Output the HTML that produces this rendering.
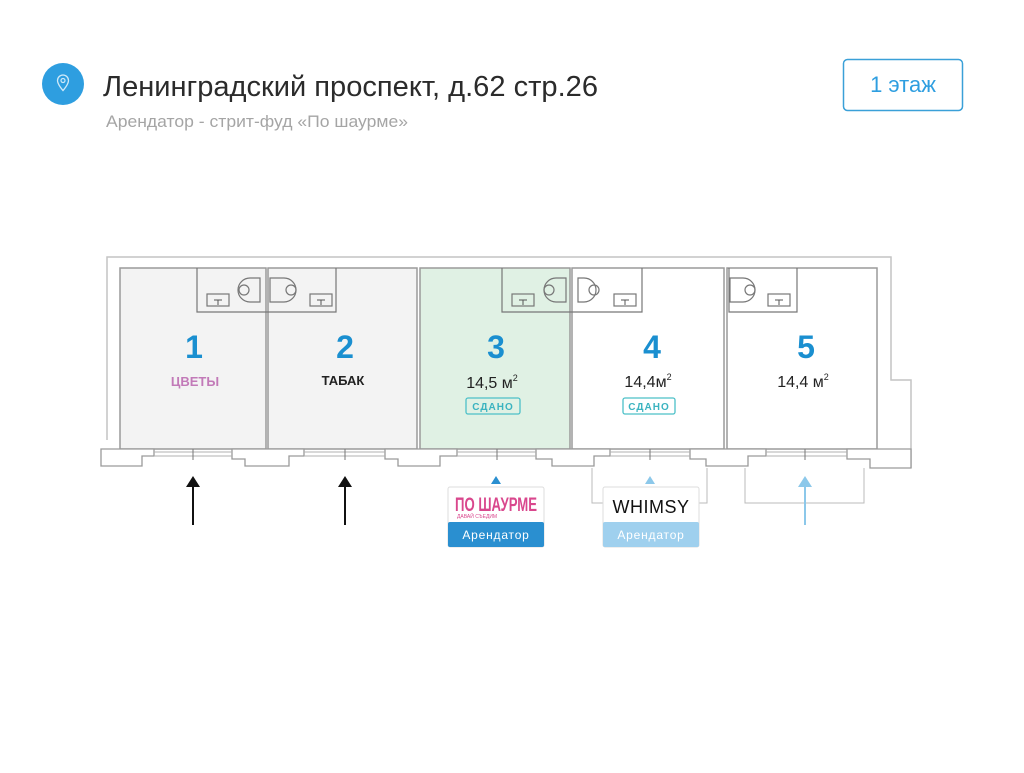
<!DOCTYPE html>
<html><head><meta charset="utf-8"><style>
body{margin:0;width:1024px;height:768px;background:#fff;overflow:hidden;font-family:"Liberation Sans",sans-serif;}
</style></head><body>
<svg width="1024" height="768" xmlns="http://www.w3.org/2000/svg" font-family="Liberation Sans, sans-serif">
<!-- header -->
<circle cx="63" cy="84" r="21" fill="#2e9ee0"/>
<path d="M63 75 a5.5 5.5 0 0 1 5.5 5.5 c0 4 -5.5 10 -5.5 10 c0 0 -5.5 -6 -5.5 -10 a5.5 5.5 0 0 1 5.5 -5.5z" fill="none" stroke="#cfe9f8" stroke-width="1.3"/>
<circle cx="63" cy="80.5" r="2" fill="none" stroke="#cfe9f8" stroke-width="1.2"/>
<text x="103" y="96" font-size="29" fill="#2b2b2b" textLength="495" lengthAdjust="spacingAndGlyphs">Ленинградский проспект, д.62 стр.26</text>
<text x="106" y="127" font-size="17" fill="#a5a5a5" textLength="302" lengthAdjust="spacingAndGlyphs">Арендатор - стрит-фуд «По шаурме»</text>
<rect x="843.5" y="59.5" width="119" height="51" rx="4" fill="#fff" stroke="#3aa0d8" stroke-width="1.5"/>
<text x="903" y="92" font-size="22" fill="#2e9ee0" text-anchor="middle">1 этаж</text>

<!-- outer wall -->
<path d="M107 440 V257 H891 V380 H911 V468" fill="none" stroke="#c4c4c4" stroke-width="1.5"/>
<!-- rooms -->
<rect x="120" y="268" width="146" height="181" fill="#f3f3f3" stroke="#9a9a9a" stroke-width="1.5"/>
<rect x="268" y="268" width="149" height="181" fill="#f3f3f3" stroke="#9a9a9a" stroke-width="1.5"/>
<rect x="420" y="268" width="150" height="181" fill="#e0f1e4" stroke="#9a9a9a" stroke-width="1.5"/>
<rect x="572" y="268" width="152" height="181" fill="#fff" stroke="#9a9a9a" stroke-width="1.5"/>
<rect x="727" y="268" width="150" height="181" fill="#fff" stroke="#9a9a9a" stroke-width="1.5"/>

<!-- toilets -->
<g fill="none" stroke="#777" stroke-width="1.2">
<path d="M197 268 V312 H336 V268"/>
<rect x="207" y="294" width="22" height="12"/><rect x="310" y="294" width="22" height="12"/>
<path d="M250 278 H260 V302 H250 a12 12 0 0 1 0 -24z"/><circle cx="244" cy="290" r="5"/>
<path d="M276 278 H270 V302 H276 H284 a12 12 0 0 0 0 -24z"/><circle cx="291" cy="290" r="5"/>
<path d="M502 268 V312 H642 V268"/>
<rect x="512" y="294" width="22" height="12"/><rect x="614" y="294" width="22" height="12"/>
<path d="M556 278 H566 V302 H556 a12 12 0 0 1 0 -24z"/><circle cx="549" cy="290" r="5"/>
<path d="M578 278 H584 a12 12 0 0 1 0 24 H578z"/><circle cx="594" cy="290" r="5"/>
<path d="M729 268 V312 H797 V268"/>
<rect x="768" y="294" width="22" height="12"/>
<path d="M730 278 H743 a12 12 0 0 1 0 24 H730z"/><circle cx="750" cy="290" r="5"/>
</g>
<g stroke="#555" stroke-width="1"><path d="M214 300 H222 M218 300 V305 M317 300 H325 M321 300 V305 M519 300 H527 M523 300 V305 M621 300 H629 M625 300 V305 M775 300 H783 M779 300 V305"/></g>

<!-- bottom walls -->
<g fill="#fff" stroke="#9a9a9a" stroke-width="1.3">
<path d="M101 449 H154 V456 H142 V466 H101z"/>
<path d="M232 449 H304 V456 H289 V466 H245 V459 H232z"/>
<path d="M385 449 H457 V456 H440 V466 H398 V459 H385z"/>
<path d="M536 449 H610 V456 H594 V466 H552 V459 H536z"/>
<path d="M690 449 H766 V456 H748 V466 H706 V459 H690z"/>
<path d="M847 449 H911 V468 H870 V459 H847z"/>
</g>
<g stroke="#b0b0b0" stroke-width="1"><path d="M154 452 H232 M154 456 H232 M304 452 H385 M304 456 H385 M457 452 H536 M457 456 H536 M610 452 H690 M610 456 H690 M766 452 H847 M766 456 H847"/></g>
<g stroke="#777" stroke-width="1"><path d="M193 449 V460 M345 449 V460 M497 449 V460 M650 449 V460 M805 449 V460"/></g>
<!-- numbers -->
<g font-size="32" font-weight="bold" fill="#1a8fd0" text-anchor="middle">
<text x="194" y="358">1</text><text x="345" y="358">2</text><text x="496" y="358">3</text><text x="652" y="358">4</text><text x="806" y="358">5</text>
</g>
<text x="195" y="386" font-size="13" font-weight="bold" fill="#c27ab8" text-anchor="middle">ЦВЕТЫ</text>
<text x="343" y="385" font-size="13" font-weight="bold" fill="#222" text-anchor="middle">ТАБАК</text>
<text x="492" y="388" font-size="16" fill="#222" text-anchor="middle">14,5 м<tspan font-size="9" dy="-7">2</tspan></text>
<text x="648" y="387" font-size="16" fill="#222" text-anchor="middle">14,4м<tspan font-size="9" dy="-7">2</tspan></text>
<text x="803" y="387" font-size="16" fill="#222" text-anchor="middle">14,4 м<tspan font-size="9" dy="-7">2</tspan></text>
<rect x="466" y="398" width="54" height="16" rx="2" fill="none" stroke="#4cc0c8" stroke-width="1.3"/>
<text x="493" y="410" font-size="10" font-weight="bold" fill="#3bb3c0" text-anchor="middle" letter-spacing="1">СДАНО</text>
<rect x="623" y="398" width="52" height="16" rx="2" fill="none" stroke="#4cc0c8" stroke-width="1.3"/>
<text x="649" y="410" font-size="10" font-weight="bold" fill="#3bb3c0" text-anchor="middle" letter-spacing="1">СДАНО</text>

<!-- brackets -->
<path d="M592 468 V503 H603 M698 503 H707 V468" fill="none" stroke="#bbb" stroke-width="1"/>
<path d="M745 468 V503 H864 V468" fill="none" stroke="#bbb" stroke-width="1"/>
<!-- arrows -->
<g stroke="#111" stroke-width="2"><path d="M193 525 V484 M345 525 V484"/></g>
<path d="M186 487 L193 476 L200 487z M338 487 L345 476 L352 487z" fill="#111"/>
<path d="M805 525 V484" stroke="#8cc8ea" stroke-width="2"/>
<path d="M798 487 L805 476 L812 487z" fill="#8cc8ea"/>
<path d="M491 484 L496 476 L501 484z" fill="#2a8fd0"/>
<path d="M645 484 L650 476 L655 484z" fill="#8cc8ea"/>
<!-- labels -->
<rect x="448" y="487" width="96" height="60" rx="2" fill="#fff" stroke="#ddd"/>
<rect x="448" y="522" width="96" height="25" rx="2" fill="#2a8fd0"/>
<text x="455" y="511" font-size="19" font-weight="bold" fill="#d9478d" textLength="82" lengthAdjust="spacingAndGlyphs">ПО ШАУРМЕ</text>
<text x="457" y="518" font-size="5" fill="#d9478d">ДАВАЙ СЪЕДИМ</text>
<text x="496" y="539" font-size="12" fill="#fff" text-anchor="middle" letter-spacing="0.8">Арендатор</text>
<rect x="603" y="487" width="96" height="60" rx="2" fill="#fff" stroke="#ddd"/>
<rect x="603" y="522" width="96" height="25" rx="2" fill="#9fd0ee"/>
<text x="651" y="513" font-size="18" fill="#111" text-anchor="middle" letter-spacing="0.5">WHIMSY</text>
<text x="651" y="539" font-size="12" fill="#fff" text-anchor="middle" letter-spacing="0.8">Арендатор</text>
</svg>
</body></html>
